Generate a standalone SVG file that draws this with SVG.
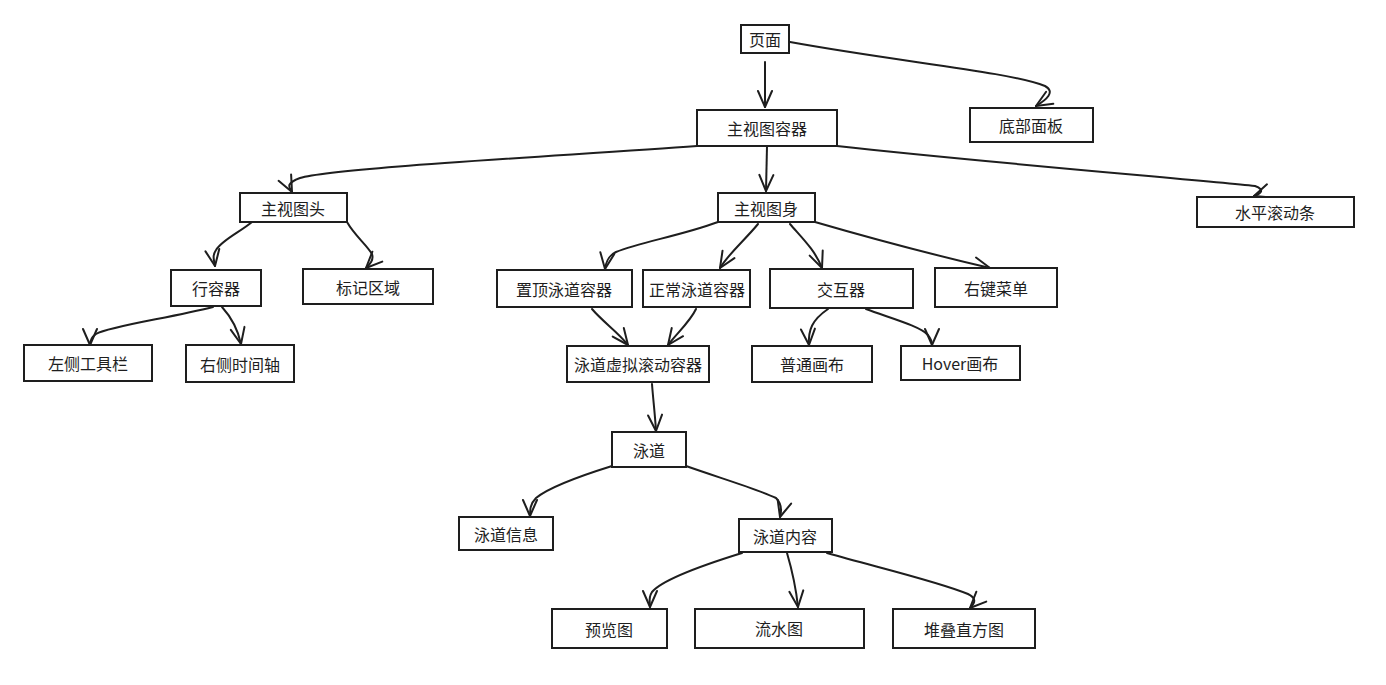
<svg xmlns="http://www.w3.org/2000/svg" width="1386" height="685" viewBox="0 0 1386 685">
<defs>
<style>
.n rect{fill:#fff;stroke:#1e1e1e;stroke-width:2}
.n text{font-family:"Noto Sans CJK SC","Noto Sans",sans-serif;font-size:16px;fill:#1e1e1e;text-anchor:middle;dominant-baseline:central}
.e path{fill:none;stroke:#1e1e1e;stroke-width:2;stroke-linecap:round;stroke-linejoin:round}
</style>
<marker id="a" viewBox="0 0 20 20" refX="18" refY="10" markerWidth="20" markerHeight="20" markerUnits="userSpaceOnUse" orient="auto">
<path d="M2,3 L18,10 L2,17" fill="none" stroke="#1e1e1e" stroke-width="2" stroke-linecap="round" stroke-linejoin="round"/>
</marker>
</defs>
<rect width="1386" height="685" fill="#fff"/>
<g class="e" id="connectors">
<path d="M765,62 L765,107" marker-end="url(#a)"/>
<path d="M790,42 C900,62 1010,72 1045,86 C1056,92 1046,100 1036,106" marker-end="url(#a)"/>
<path d="M697,146 C560,156 330,168 300,178 C284,184 290,188 292,192" marker-end="url(#a)"/>
<path d="M767,146 L766,191" marker-end="url(#a)"/>
<path d="M837,146 C980,162 1200,180 1255,186 C1266,190 1260,194 1254,196" marker-end="url(#a)"/>
<path d="M252,222 C240,232 222,240 216,250 C212,256 214,260 215,266" marker-end="url(#a)"/>
<path d="M347,222 C355,236 366,244 372,254 C374,260 370,264 366,268" marker-end="url(#a)"/>
<path d="M718,222 C680,236 640,242 616,252 C608,256 606,262 605,269" marker-end="url(#a)"/>
<path d="M758,224 C745,240 730,252 720,268" marker-end="url(#a)"/>
<path d="M790,224 C802,238 815,250 822,268" marker-end="url(#a)"/>
<path d="M815,222 C870,238 930,254 990,268" marker-end="url(#a)"/>
<path d="M592,309 C603,322 618,332 628,345" marker-end="url(#a)"/>
<path d="M696,309 C690,322 676,334 668,345" marker-end="url(#a)"/>
<path d="M828,309 C812,320 808,330 809,345" marker-end="url(#a)"/>
<path d="M866,309 C890,318 920,326 928,335 C932,340 932,342 932,345" marker-end="url(#a)"/>
<path d="M213,307 C170,318 110,326 96,334 C90,338 90,342 90,345" marker-end="url(#a)"/>
<path d="M222,307 C232,318 238,330 241,344" marker-end="url(#a)"/>
<path d="M652,384 C653,398 655,414 656,431" marker-end="url(#a)"/>
<path d="M612,466 C580,476 548,488 536,498 C530,504 530,510 530,516" marker-end="url(#a)"/>
<path d="M686,466 C720,478 760,490 776,498 C782,504 782,510 780,517" marker-end="url(#a)"/>
<path d="M742,553 C700,566 662,580 652,592 C648,598 650,602 650,607" marker-end="url(#a)"/>
<path d="M787,553 C792,570 796,588 798,607" marker-end="url(#a)"/>
<path d="M827,553 C880,568 940,582 968,594 C976,598 976,602 970,608" marker-end="url(#a)"/>
</g>
<g class="n" id="n-page"><rect x="741" y="25" width="48" height="28"/><text x="765" y="39">页面</text></g>
<g class="n" id="n-mvc"><rect x="697" y="110" width="140" height="36"/><text x="767" y="128">主视图容器</text></g>
<g class="n" id="n-bottom"><rect x="970" y="108" width="123" height="34"/><text x="1031" y="125">底部面板</text></g>
<g class="n" id="n-head"><rect x="240" y="193" width="107" height="29"/><text x="293" y="208">主视图头</text></g>
<g class="n" id="n-body"><rect x="718" y="193" width="97" height="29"/><text x="766" y="208">主视图身</text></g>
<g class="n" id="n-hscroll"><rect x="1197" y="197" width="157" height="30"/><text x="1275" y="212">水平滚动条</text></g>
<g class="n" id="n-row"><rect x="171" y="270" width="90" height="36"/><text x="216" y="288">行容器</text></g>
<g class="n" id="n-mark"><rect x="303" y="269" width="130" height="35"/><text x="368" y="287">标记区域</text></g>
<g class="n" id="n-pin"><rect x="497" y="270" width="135" height="37"/><text x="564" y="289">置顶泳道容器</text></g>
<g class="n" id="n-normal"><rect x="643" y="270" width="107" height="37"/><text x="697" y="289">正常泳道容器</text></g>
<g class="n" id="n-interact"><rect x="770" y="269" width="143" height="39"/><text x="841" y="289">交互器</text></g>
<g class="n" id="n-menu"><rect x="935" y="268" width="122" height="39"/><text x="996" y="288">右键菜单</text></g>
<g class="n" id="n-tool"><rect x="24" y="345" width="128" height="36"/><text x="88" y="363">左侧工具栏</text></g>
<g class="n" id="n-time"><rect x="186" y="345" width="108" height="37"/><text x="240" y="364">右侧时间轴</text></g>
<g class="n" id="n-vscroll"><rect x="567" y="346" width="142" height="36"/><text x="638" y="364">泳道虚拟滚动容器</text></g>
<g class="n" id="n-canvas"><rect x="752" y="346" width="120" height="36"/><text x="812" y="364">普通画布</text></g>
<g class="n" id="n-hover"><rect x="901" y="346" width="119" height="34"/><text x="960" y="363">Hover画布</text></g>
<g class="n" id="n-lane"><rect x="612" y="432" width="74" height="35"/><text x="649" y="450">泳道</text></g>
<g class="n" id="n-info"><rect x="459" y="517" width="94" height="33"/><text x="506" y="534">泳道信息</text></g>
<g class="n" id="n-content"><rect x="739" y="519" width="93" height="33"/><text x="785" y="536">泳道内容</text></g>
<g class="n" id="n-preview"><rect x="552" y="609" width="115" height="39"/><text x="609" y="629">预览图</text></g>
<g class="n" id="n-flow"><rect x="695" y="609" width="169" height="39"/><text x="779" y="628">流水图</text></g>
<g class="n" id="n-stack"><rect x="893" y="609" width="142" height="39"/><text x="964" y="629">堆叠直方图</text></g>
</svg>
